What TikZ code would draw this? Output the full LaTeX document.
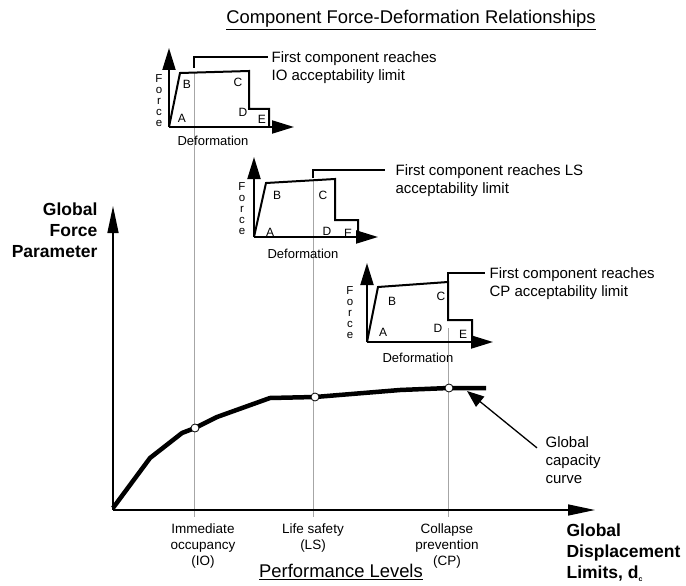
\documentclass[tikz,border=0pt]{standalone}
\usepackage{fontspec}
\setmainfont{Liberation Sans}
\usetikzlibrary{arrows.meta}

\tikzset{
  comp/.style={line width=2pt, line join=miter},
  compaxis/.style={line width=2pt, -{Triangle[length=22pt,width=13pt]}},
  mainaxis/.style={line width=1.5pt, -{Triangle[length=27pt,width=11pt]}},
  level/.style={gray!70, line width=0.9pt},
  leader/.style={line width=1.3pt},
  ltr/.style={font=\fontsize{12}{12}\selectfont, inner sep=0pt},
  frc/.style={align=center, font=\fontsize{11.5}{11}\selectfont, inner sep=0pt},
  dfm/.style={font=\fontsize{13}{14}\selectfont, inner sep=0pt},
  note/.style={align=left, font=\fontsize{15}{18}\selectfont, inner sep=0pt},
  perf/.style={align=center, font=\fontsize{13.5}{16}\selectfont, inner sep=0pt},
  head/.style={font=\fontsize{18.4}{20}\selectfont, inner sep=0pt},
  axlbl/.style={font=\bfseries\fontsize{17.5}{21}\selectfont, inner sep=0pt},
  hit/.style={circle, draw, fill=white, line width=0.8pt, minimum size=8pt, inner sep=0pt},
}

\begin{document}
\begin{tikzpicture}[x=1pt, y=-1pt, line width=1.2pt]

\useasboundingbox (0,0) rectangle (686,586);

% ═══════════════════════════════════════════════════════
% TITULOS
% ═══════════════════════════════════════════════════════

\node[head] (title) at (411,20) {\underline{Component Force-Deformation Relationships}};
\node[head] (perfTitle) at (341,572) {\underline{Performance Levels}};

% ═══════════════════════════════════════════════════════
% NIVELES DE DESEMPEÑO (lineas grises)
% ═══════════════════════════════════════════════════════

\draw[level] (194,73) -- (194,517);
\draw[level] (313,180) -- (313,517);
\draw[level] (448,328) -- (448,517);

\node[perf, anchor=north] (lvlIO) at (203,523) {Immediate\\occupancy\\(IO)};
\node[perf, anchor=north] (lvlLS) at (313,523) {Life safety\\(LS)};
\node[perf, anchor=north] (lvlCP) at (447,523) {Collapse\\prevention\\(CP)};

% ═══════════════════════════════════════════════════════
% EJES GLOBALES
% ═══════════════════════════════════════════════════════

\coordinate (orig) at (113,510);
\draw[mainaxis] (orig) -- (113,206);
\draw[mainaxis] (orig) -- (595,510);

\node[axlbl, align=right, anchor=east] (yLbl) at (98,230)
    {Global\\Force\\Parameter};
\node[axlbl, align=left, anchor=west] (xLbl) at (566,553)
    {Global\\Displacement\\Limits, d\textsubscript{\fontsize{7}{7}\selectfont c}};

% ═══════════════════════════════════════════════════════
% CURVA DE CAPACIDAD
% ═══════════════════════════════════════════════════════

\draw[line width=4.5pt, line join=round]
    (113,508) -- (150,458) -- (182,433) -- (195,428) -- (217,417)
    -- (270,398) -- (315,397) -- (400,390) -- (449,388) -- (486,388);

\node[hit] (ptIO) at (195,428) {};
\node[hit] (ptLS) at (315,397) {};
\node[hit] (ptCP) at (449,388) {};

\node[note, anchor=west] (capLbl) at (545,460) {Global\\capacity\\curve};
\draw[line width=1.3pt, -{Triangle[length=17pt,width=13pt]}]
    ([xshift=-8pt, yshift=-12pt]capLbl.north west) -- (467,391);

% ═══════════════════════════════════════════════════════
% COMPONENTE 1 (IO)
% ═══════════════════════════════════════════════════════

\coordinate (o1) at (169,127);
\draw[compaxis] (o1) -- (169,48);
\draw[compaxis] (o1) -- (294,127);
\draw[comp] (o1) -- (180,73) -- (249,71) -- (249,109) -- (269,109) -- (269,127);

\node[ltr] (a1) at (182,118) {A};
\node[ltr] (b1) at (187,84) {B};
\node[ltr] (c1) at (238,82) {C};
\node[ltr] (d1) at (243,112) {D};
\node[ltr] (e1) at (262,119) {E};
\node[frc] (f1) at (159,101) {F\\o\\r\\c\\e};
\node[dfm] (def1) at (213,141) {Deformation};

\coordinate (hook1) at (268,57);
\draw[leader] (194,68) |- (hook1);
\node[note, anchor=north west] (noteIO) at ([shift={(3,-6)}]hook1)
    {First component reaches\\IO acceptability limit};

% ═══════════════════════════════════════════════════════
% COMPONENTE 2 (LS)
% ═══════════════════════════════════════════════════════

\coordinate (o2) at (254,237);
\draw[compaxis] (o2) -- (254,157);
\draw[compaxis] (o2) -- (378,237);
\draw[comp] (o2) -- (266,183) -- (335,179) -- (335,220) -- (358,220) -- (358,237);

\node[ltr] (a2) at (270,232) {A};
\node[ltr] (b2) at (277,195) {B};
\node[ltr] (c2) at (323,195) {C};
\node[ltr] (d2) at (327,231) {D};
\node[ltr] (e2) at (348,233) {E};
\node[frc] (f2) at (242,209) {F\\o\\r\\c\\e};
\node[dfm] (def2) at (303,254) {Deformation};

\coordinate (hook2) at (385,170);
\draw[leader] (313,178) |- (hook2);
\node[note, anchor=north west] (noteLS) at ([shift={(10,-6)}]hook2)
    {First component reaches LS\\acceptability limit};

% ═══════════════════════════════════════════════════════
% COMPONENTE 3 (CP)
% ═══════════════════════════════════════════════════════

\coordinate (o3) at (367,342);
\draw[compaxis] (o3) -- (367,263);
\draw[compaxis] (o3) -- (493,342);
\draw[comp] (o3) -- (378,287) -- (448,282) -- (448,320) -- (472,320) -- (472,342);

\node[ltr] (a3) at (383,332) {A};
\node[ltr] (b3) at (392,301) {B};
\node[ltr] (c3) at (441,296) {C};
\node[ltr] (d3) at (438,328) {D};
\node[ltr] (e3) at (463,334) {E};
\node[frc] (f3) at (350,313) {F\\o\\r\\c\\e};
\node[dfm] (def3) at (418,358) {Deformation};

\coordinate (hook3) at (485,273);
\draw[leader] (448,282) |- (hook3);
\node[note, anchor=north west] (noteCP) at ([shift={(4,-6)}]hook3)
    {First component reaches\\CP acceptability limit};

\end{tikzpicture}
\end{document}
